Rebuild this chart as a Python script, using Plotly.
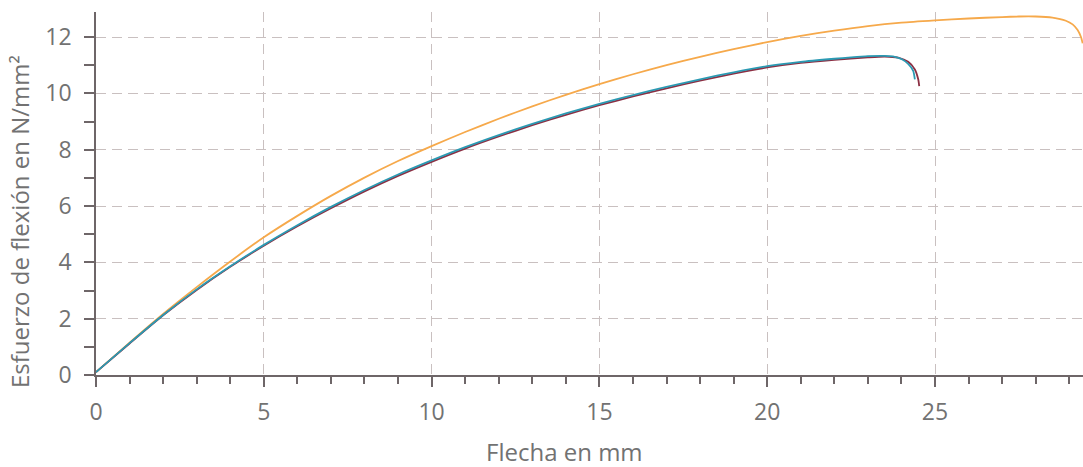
import plotly.graph_objects as go

# Deflection (mm) vs. bending stress (N/mm²) for three specimens
x_orange = [0, 1, 2, 3, 4, 5, 6, 7, 8, 9, 10, 11, 12, 13, 14, 15, 16, 17, 18, 19,
            20, 21, 22, 23, 24, 25, 26, 27, 27.5, 28, 28.5, 28.9, 29.1, 29.25, 29.35, 29.4]
y_orange = [0.1, 1.15, 2.17, 3.12, 4.03, 4.89, 5.65, 6.36, 7.01, 7.60, 8.13, 8.63, 9.10, 9.54,
            9.95, 10.33, 10.68, 11.00, 11.30, 11.57, 11.82, 12.04, 12.23, 12.39, 12.51, 12.59,
            12.66, 12.71, 12.73, 12.73, 12.69, 12.58, 12.45, 12.25, 12.00, 11.78]

x_teal = [0, 1, 2, 3, 4, 5, 6, 7, 8, 9, 10, 11, 12, 13, 14, 15, 16, 17, 18, 19, 20,
          21, 22, 22.5, 23, 23.5, 23.8, 24.0, 24.2, 24.35, 24.4]
y_teal = [0.1, 1.13, 2.13, 3.04, 3.86, 4.62, 5.32, 5.97, 6.57, 7.12, 7.62, 8.09, 8.52, 8.92,
          9.29, 9.63, 9.94, 10.23, 10.50, 10.75, 10.97, 11.12, 11.23, 11.28, 11.32, 11.33,
          11.30, 11.22, 11.05, 10.80, 10.50]

x_red = [0, 1, 2, 3, 4, 5, 6, 7, 8, 9, 10, 11, 12, 13, 14, 15, 16, 17, 18, 19, 20,
         21, 22, 23, 23.5, 23.9, 24.2, 24.4, 24.5, 24.53]
y_red = [0.1, 1.12, 2.12, 3.02, 3.84, 4.59, 5.28, 5.92, 6.52, 7.07, 7.57, 8.04, 8.47, 8.87,
         9.24, 9.58, 9.89, 10.18, 10.45, 10.70, 10.92, 11.08, 11.19, 11.28, 11.31, 11.27,
         11.12, 10.85, 10.50, 10.26]

x_title = "Flecha en mm"
y_title = "Esfuerzo de flexión en N/mm²"

AXIS = "#6e6668"
GRID = "#c9c0c0"
TEXT = "#727272"
FONT = "Open Sans"

fig = go.Figure()
for xs, ys, col in [(x_orange, y_orange, "#f6a94b"),
                    (x_red, y_red, "#8c2f43"),
                    (x_teal, y_teal, "#2b9ab3")]:
    fig.add_trace(go.Scatter(x=xs, y=ys, mode="lines",
                             line=dict(color=col, width=1.8, shape="spline", smoothing=0.6),
                             showlegend=False, hoverinfo="skip"))

x_range = [0, 29.41]
y_range = [0, 12.89]

fig.update_layout(
    width=1083, height=467,
    margin=dict(l=96, r=0, t=12, b=92),
    paper_bgcolor="white", plot_bgcolor="white",
    font=dict(family=FONT, color=TEXT, size=23),
    xaxis=dict(range=x_range, dtick=5, tick0=0,
               showline=True, linecolor=AXIS, linewidth=1.5,
               ticks="outside", ticklen=10, tickwidth=1.5, tickcolor=AXIS,
               minor=dict(dtick=1, ticks="outside", ticklen=7, tickwidth=1.5, tickcolor=AXIS),
               showgrid=True, gridcolor=GRID, gridwidth=1.2, griddash="10px,6px",
               zeroline=False, ticklabelstandoff=6,
               tickfont=dict(size=23, color=TEXT)),
    yaxis=dict(range=y_range, dtick=2, tick0=0,
               showline=True, linecolor=AXIS, linewidth=1.5,
               ticks="outside", ticklen=10, tickwidth=1.5, tickcolor=AXIS,
               minor=dict(dtick=1, ticks="outside", ticklen=10, tickwidth=1.5, tickcolor=AXIS),
               showgrid=True, gridcolor=GRID, gridwidth=1.2, griddash="10px,6px",
               zeroline=False, ticklabelstandoff=8,
               tickfont=dict(size=23, color=TEXT)),
    # mirrored axes supply the inner half of the crossing tick marks
    xaxis2=dict(range=x_range, overlaying="x", matches="x", anchor="y", side="bottom",
                dtick=5, tick0=0, ticks="inside", ticklen=7, tickwidth=1.5, tickcolor=AXIS,
                minor=dict(dtick=1, ticks="inside", ticklen=7, tickwidth=1.5, tickcolor=AXIS),
                showticklabels=False, showgrid=False, zeroline=False, showline=False),
    yaxis2=dict(range=y_range, overlaying="y", matches="y", anchor="x", side="left",
                dtick=2, tick0=0, ticks="inside", ticklen=10, tickwidth=1.5, tickcolor=AXIS,
                minor=dict(dtick=1, ticks="inside", ticklen=10, tickwidth=1.5, tickcolor=AXIS),
                showticklabels=False, showgrid=False, zeroline=False, showline=False),
    annotations=[
        dict(text=x_title, xref="paper", yref="paper", x=0.475, y=-0.212,
             xanchor="center", yanchor="middle", showarrow=False,
             font=dict(size=24, color=TEXT, family=FONT)),
        dict(text=y_title, xref="paper", yref="paper", x=-0.077, y=0.4215,
             xanchor="center", yanchor="middle", textangle=-90, showarrow=False,
             font=dict(size=24, color=TEXT, family=FONT)),
    ],
)

fig.write_html("out.html")
